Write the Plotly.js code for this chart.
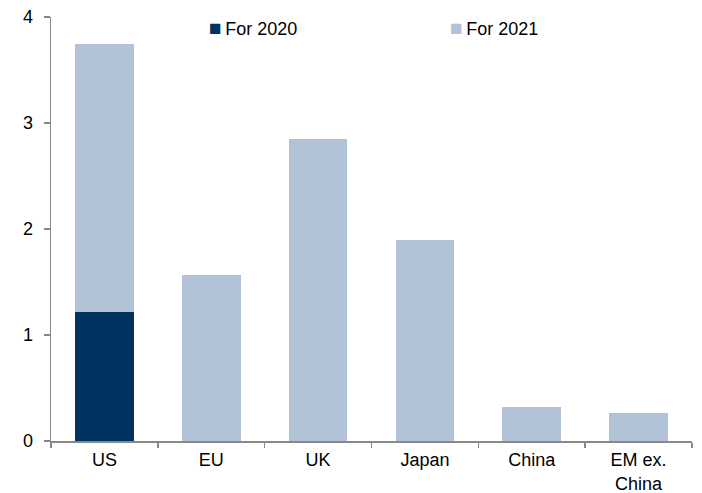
<!DOCTYPE html>
<html><head><meta charset="utf-8">
<script src="https://cdn.plot.ly/plotly-3.0.1.min.js"></script>
<style>html,body{margin:0;padding:0;background:#fff;}</style>
</head><body>
<div id="chart" style="width:702px;height:493px;"></div>
<script>
const categories = ["US", "EU", "UK", "Japan", "China", "EM ex.<br>China"];
const for2020 = [1.22, 0, 0, 0, 0, 0];
const for2021 = [2.53, 1.57, 2.85, 1.90, 0.32, 0.26];
const seriesNames = ["For 2020", "For 2021"];
const colors = ["#003360", "#B1C2D7"];

const font = {family: "'Liberation Sans', Arial, sans-serif", size: 18, color: "#000"};
const traces = [
  {type: "bar", x: categories, y: for2020, name: seriesNames[0], marker: {color: colors[0]}, width: 0.55, showlegend: false, hoverinfo: "none"},
  {type: "bar", x: categories, y: for2021, name: seriesNames[1], marker: {color: colors[1]}, width: 0.55, showlegend: false, hoverinfo: "none"}
];
const layout = {
  width: 702, height: 493,
  margin: {l: 51, r: 10, t: 17, b: 52},
  barmode: "stack",
  paper_bgcolor: "#fff", plot_bgcolor: "#fff",
  font: font,
  xaxis: {showline: true, linecolor: "#888", linewidth: 1.5, ticks: "outside", tickson: "boundaries",
          ticklen: 5, tickcolor: "#888", tickwidth: 1.5, showgrid: false, tickfont: font, ticklabelstandoff: 2},
  yaxis: {range: [0, 4], dtick: 1, showline: true, linecolor: "#888", linewidth: 1.5, ticks: "outside",
          ticklen: 6, tickcolor: "#888", tickwidth: 1.5, showgrid: false, zeroline: false, tickfont: font, ticklabelstandoff: 7},
  annotations: [
    {xref: "paper", yref: "paper", x: (207-51)/641, y: 1 - (28-17)/424, xanchor: "left", yanchor: "middle", showarrow: false,
     text: '<span style="color:' + colors[0] + ';font-size:21px">■</span>\u2009' + seriesNames[0], font: font},
    {xref: "paper", yref: "paper", x: (448-51)/641, y: 1 - (28-17)/424, xanchor: "left", yanchor: "middle", showarrow: false,
     text: '<span style="color:' + colors[1] + ';font-size:21px">■</span>\u2009' + seriesNames[1], font: font}
  ]
};
Plotly.newPlot("chart", traces, layout, {staticPlot: true, displayModeBar: false});
</script>
</body></html>
